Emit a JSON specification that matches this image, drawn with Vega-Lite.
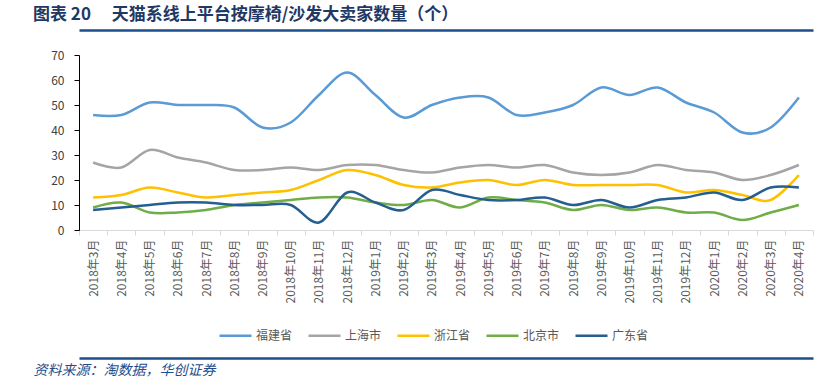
{
  "$schema": "https://vega.github.io/schema/vega-lite/v6.json",
  "width": 734,
  "height": 175,
  "autosize": "none",
  "padding": {"left": 79, "top": 55, "right": 14, "bottom": 160},
  "background": "white",
  "title": {
    "text": "图表\u00a020\u3000\u00a0天猫系线上平台按摩椅/沙发大卖家数量（个）",
    "anchor": "start",
    "frame": "group",
    "dx": -46,
    "offset": 6,
    "font": "Noto Sans CJK SC",
    "fontSize": 17,
    "fontWeight": "bold",
    "color": "#1F3864"
  },
  "config": {
    "view": {"stroke": null},
    "font": "Noto Sans CJK SC",
    "axisY": {
      "values": [0, 10, 20, 30, 40, 50, 60, 70],
      "labelOverlap": false,
      "grid": false,
      "domainColor": "#000000",
      "tickColor": "#000000",
      "tickSize": 5,
      "labelFontSize": 12,
      "labelColor": "#404040",
      "labelPadding": 10,
      "title": null
    }
  },
  "data": {
    "values": [
      {"m":"2018年3月","s":"福建省","v":46},{"m":"2018年3月","s":"上海市","v":27},{"m":"2018年3月","s":"浙江省","v":13},{"m":"2018年3月","s":"北京市","v":9},{"m":"2018年3月","s":"广东省","v":8},
      {"m":"2018年4月","s":"福建省","v":46},{"m":"2018年4月","s":"上海市","v":25},{"m":"2018年4月","s":"浙江省","v":14},{"m":"2018年4月","s":"北京市","v":11},{"m":"2018年4月","s":"广东省","v":9},
      {"m":"2018年5月","s":"福建省","v":51},{"m":"2018年5月","s":"上海市","v":32},{"m":"2018年5月","s":"浙江省","v":17},{"m":"2018年5月","s":"北京市","v":7},{"m":"2018年5月","s":"广东省","v":10},
      {"m":"2018年6月","s":"福建省","v":50},{"m":"2018年6月","s":"上海市","v":29},{"m":"2018年6月","s":"浙江省","v":15},{"m":"2018年6月","s":"北京市","v":7},{"m":"2018年6月","s":"广东省","v":11},
      {"m":"2018年7月","s":"福建省","v":50},{"m":"2018年7月","s":"上海市","v":27},{"m":"2018年7月","s":"浙江省","v":13},{"m":"2018年7月","s":"北京市","v":8},{"m":"2018年7月","s":"广东省","v":11},
      {"m":"2018年8月","s":"福建省","v":49},{"m":"2018年8月","s":"上海市","v":24},{"m":"2018年8月","s":"浙江省","v":14},{"m":"2018年8月","s":"北京市","v":10},{"m":"2018年8月","s":"广东省","v":10},
      {"m":"2018年9月","s":"福建省","v":41},{"m":"2018年9月","s":"上海市","v":24},{"m":"2018年9月","s":"浙江省","v":15},{"m":"2018年9月","s":"北京市","v":11},{"m":"2018年9月","s":"广东省","v":10},
      {"m":"2018年10月","s":"福建省","v":43},{"m":"2018年10月","s":"上海市","v":25},{"m":"2018年10月","s":"浙江省","v":16},{"m":"2018年10月","s":"北京市","v":12},{"m":"2018年10月","s":"广东省","v":10},
      {"m":"2018年11月","s":"福建省","v":54},{"m":"2018年11月","s":"上海市","v":24},{"m":"2018年11月","s":"浙江省","v":20},{"m":"2018年11月","s":"北京市","v":13},{"m":"2018年11月","s":"广东省","v":3},
      {"m":"2018年12月","s":"福建省","v":63},{"m":"2018年12月","s":"上海市","v":26},{"m":"2018年12月","s":"浙江省","v":24},{"m":"2018年12月","s":"北京市","v":13},{"m":"2018年12月","s":"广东省","v":15},
      {"m":"2019年1月","s":"福建省","v":54},{"m":"2019年1月","s":"上海市","v":26},{"m":"2019年1月","s":"浙江省","v":22},{"m":"2019年1月","s":"北京市","v":11},{"m":"2019年1月","s":"广东省","v":11},
      {"m":"2019年2月","s":"福建省","v":45},{"m":"2019年2月","s":"上海市","v":24},{"m":"2019年2月","s":"浙江省","v":18},{"m":"2019年2月","s":"北京市","v":10},{"m":"2019年2月","s":"广东省","v":8},
      {"m":"2019年3月","s":"福建省","v":50},{"m":"2019年3月","s":"上海市","v":23},{"m":"2019年3月","s":"浙江省","v":17},{"m":"2019年3月","s":"北京市","v":12},{"m":"2019年3月","s":"广东省","v":16},
      {"m":"2019年4月","s":"福建省","v":53},{"m":"2019年4月","s":"上海市","v":25},{"m":"2019年4月","s":"浙江省","v":19},{"m":"2019年4月","s":"北京市","v":9},{"m":"2019年4月","s":"广东省","v":14},
      {"m":"2019年5月","s":"福建省","v":53},{"m":"2019年5月","s":"上海市","v":26},{"m":"2019年5月","s":"浙江省","v":20},{"m":"2019年5月","s":"北京市","v":13},{"m":"2019年5月","s":"广东省","v":12},
      {"m":"2019年6月","s":"福建省","v":46},{"m":"2019年6月","s":"上海市","v":25},{"m":"2019年6月","s":"浙江省","v":18},{"m":"2019年6月","s":"北京市","v":12},{"m":"2019年6月","s":"广东省","v":12},
      {"m":"2019年7月","s":"福建省","v":47},{"m":"2019年7月","s":"上海市","v":26},{"m":"2019年7月","s":"浙江省","v":20},{"m":"2019年7月","s":"北京市","v":11},{"m":"2019年7月","s":"广东省","v":13},
      {"m":"2019年8月","s":"福建省","v":50},{"m":"2019年8月","s":"上海市","v":23},{"m":"2019年8月","s":"浙江省","v":18},{"m":"2019年8月","s":"北京市","v":8},{"m":"2019年8月","s":"广东省","v":10},
      {"m":"2019年9月","s":"福建省","v":57},{"m":"2019年9月","s":"上海市","v":22},{"m":"2019年9月","s":"浙江省","v":18},{"m":"2019年9月","s":"北京市","v":10},{"m":"2019年9月","s":"广东省","v":12},
      {"m":"2019年10月","s":"福建省","v":54},{"m":"2019年10月","s":"上海市","v":23},{"m":"2019年10月","s":"浙江省","v":18},{"m":"2019年10月","s":"北京市","v":8},{"m":"2019年10月","s":"广东省","v":9},
      {"m":"2019年11月","s":"福建省","v":57},{"m":"2019年11月","s":"上海市","v":26},{"m":"2019年11月","s":"浙江省","v":18},{"m":"2019年11月","s":"北京市","v":9},{"m":"2019年11月","s":"广东省","v":12},
      {"m":"2019年12月","s":"福建省","v":51},{"m":"2019年12月","s":"上海市","v":24},{"m":"2019年12月","s":"浙江省","v":15},{"m":"2019年12月","s":"北京市","v":7},{"m":"2019年12月","s":"广东省","v":13},
      {"m":"2020年1月","s":"福建省","v":47},{"m":"2020年1月","s":"上海市","v":23},{"m":"2020年1月","s":"浙江省","v":16},{"m":"2020年1月","s":"北京市","v":7},{"m":"2020年1月","s":"广东省","v":15},
      {"m":"2020年2月","s":"福建省","v":39},{"m":"2020年2月","s":"上海市","v":20},{"m":"2020年2月","s":"浙江省","v":14},{"m":"2020年2月","s":"北京市","v":4},{"m":"2020年2月","s":"广东省","v":12},
      {"m":"2020年3月","s":"福建省","v":41},{"m":"2020年3月","s":"上海市","v":22},{"m":"2020年3月","s":"浙江省","v":12},{"m":"2020年3月","s":"北京市","v":7},{"m":"2020年3月","s":"广东省","v":17},
      {"m":"2020年4月","s":"福建省","v":53},{"m":"2020年4月","s":"上海市","v":26},{"m":"2020年4月","s":"浙江省","v":22},{"m":"2020年4月","s":"北京市","v":10},{"m":"2020年4月","s":"广东省","v":17}
    ]
  },
  "layer": [
    {
      "mark": {"type": "line", "interpolate": "cardinal", "strokeWidth": 2.5},
      "encoding": {
        "x": {
          "field": "m",
          "type": "ordinal",
          "sort": null,
          "scale": {"type": "band", "paddingInner": 0, "paddingOuter": 0},
          "axis": {
            "orient": "bottom",
            "labelAngle": -90,
            "labelFontSize": 12,
            "labelColor": "#595959",
            "labelPadding": 4,
            "labelOverlap": false,
            "tickBand": "extent",
            "tickSize": 5,
            "tickColor": "#D9D9D9",
            "domainColor": "#D9D9D9",
            "grid": false,
            "title": null
          }
        },
        "y": {
          "field": "v",
          "type": "quantitative",
          "scale": {"domain": [0, 70]},
          "title": null
        },
        "color": {
          "field": "s",
          "type": "nominal",
          "scale": {
            "domain": ["福建省", "上海市", "浙江省", "北京市", "广东省"],
            "range": ["#5B9BD5", "#A5A5A5", "#FFC000", "#70AD47", "#255E91"]
          },
          "legend": {
            "orient": "none",
            "legendX": 139,
            "legendY": 263,
            "direction": "horizontal",
            "title": null,
            "symbolType": "stroke",
            "symbolSize": 1024,
            "symbolStrokeWidth": 2.5,
            "labelFontSize": 12,
            "labelColor": "#595959",
            "labelOffset": 3,
            "columnPadding": 10
          }
        }
      }
    },
    {
      "mark": {"type": "line", "strokeOpacity": 0},
      "encoding": {
        "x": {
          "field": "m",
          "type": "ordinal",
          "sort": null,
          "axis": {
            "orient": "top",
            "offset": 25,
            "labels": false,
            "ticks": false,
            "domainColor": "#1F4E8C",
            "domainWidth": 2.5,
            "title": null
          }
        },
        "y": {"field": "v", "type": "quantitative", "title": null},
        "detail": {"field": "s"}
      }
    },
    {
      "mark": {"type": "line", "strokeOpacity": 0},
      "encoding": {
        "x": {
          "field": "m",
          "type": "ordinal",
          "sort": null,
          "axis": {
            "orient": "bottom",
            "offset": 128,
            "labels": false,
            "ticks": false,
            "domainColor": "#1F4E8C",
            "domainWidth": 2.5,
            "title": "资料来源：淘数据，华创证券",
            "titleX": -46,
            "titleY": 12,
            "titleAlign": "left",
            "titleBaseline": "middle",
            "titleAnchor": null,
            "titleFont": "Noto Sans CJK SC",
            "titleFontStyle": "italic",
            "titleFontWeight": "normal",
            "titleFontSize": 14,
            "titleColor": "#1F4E8C"
          }
        },
        "y": {"field": "v", "type": "quantitative", "title": null},
        "detail": {"field": "s"}
      }
    }
  ],
  "resolve": {"axis": {"x": "independent"}}
}
